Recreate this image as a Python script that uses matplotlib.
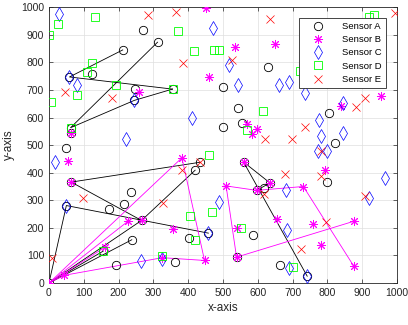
"""Sensor positions with cluster routes to the sink."""

import matplotlib

matplotlib.use("Agg")

import matplotlib.pyplot as plt

# Sensor A (black circles)
a_x = [212, 269, 312, 59, 124, 248, 355, 245, 62, 63, 48,
       499, 629, 543, 501, 554, 805, 821, 559, 435, 420,
       235, 216, 172, 64, 50, 266, 238, 156, 192, 403, 458, 361, 0,
       635, 618, 597, 800, 587, 665, 742, 539]
a_y = [845, 918, 873, 747, 756, 704, 703, 662, 563, 543, 490,
       709, 783, 633, 566, 581, 618, 506, 439, 438, 409,
       330, 285, 267, 366, 281, 227, 157, 116, 66, 165, 181, 78, 0,
       363, 344, 336, 368, 175, 67, 25, 94]

# Sensor B (magenta asterisks)
b_x = [0, 43, 161, 228, 266, 64, 55, 63, 258, 382, 451, 460, 534, 649,
       568, 582, 598, 838, 955, 559, 635, 597, 509, 731, 794, 539, 541,
       654, 759, 876, 781, 876, 447, 326, 356]
b_y = [0, 28, 130, 225, 227, 366, 444, 543, 691, 454, 997, 748, 857, 867,
       577, 542, 557, 642, 679, 439, 363, 336, 352, 350, 408, 94, 200,
       234, 215, 224, 137, 61, 82, 92, 195]

# Sensor C (blue diamonds)
c_x = [30, 80, 59, 245, 222, 17, 412, 471, 518, 543, 661, 691, 735, 845,
       776, 781, 845, 772, 800, 50, 458, 265, 326, 489, 681, 683, 689,
       919, 966, 742]
c_y = [976, 717, 747, 662, 521, 440, 598, 926, 792, 719, 718, 730, 688, 654,
       590, 533, 545, 477, 477, 281, 181, 81, 88, 295, 339, 194, 56,
       309, 380, 25]

# Sensor D (green squares)
d_x = [0, 25, 133, 6, 124, 109, 193, 80, 371, 417, 355, 62, 474, 490,
       614, 569, 459, 722, 921, 934, 404, 419, 156, 326, 469, 551, 701]
d_y = [900, 938, 965, 657, 798, 765, 717, 683, 912, 840, 703, 563, 845, 845,
       622, 556, 465, 769, 966, 973, 244, 155, 116, 98, 257, 200, 58]

# Sensor E (red crosses)
e_x = [46, 181, 285, 364, 384, 635, 527, 737, 622, 699, 882, 907, 995,
       781, 98, 329, 382, 9, 435, 677, 781, 617, 907, 797, 723]
e_y = [694, 670, 970, 982, 798, 957, 808, 566, 521, 521, 637, 671, 977,
       480, 307, 290, 408, 92, 438, 396, 389, 324, 317, 223, 124]

# routes (each path is a list of (x, y) nodes)
black_paths = [
    [(212, 845), (59, 747), (355, 703)],
    [(312, 873), (62, 563), (245, 662), (355, 703)],
    [(458, 181), (50, 281), (0, 0), (266, 227), (420, 409)],
    [(435, 438), (64, 366), (266, 227)],
    [(0, 0), (238, 157)],
    [(0, 0), (156, 116)],
    [(742, 25), (559, 439), (635, 363), (597, 336)],
]
magenta_paths = [
    [(0, 0), (228, 225)],
    [(0, 0), (161, 130)],
    [(0, 0), (382, 454), (447, 82), (326, 92), (43, 28), (0, 0)],
    [(876, 61), (731, 350), (597, 336), (509, 352), (539, 94), (876, 224)],
]

plt.rcParams["font.family"] = ["Liberation Sans", "DejaVu Sans"]

fig = plt.figure(figsize=(4.08, 3.25), dpi=100)
ax = fig.add_axes([0.120, 0.129, 0.853, 0.849])

for path in black_paths:
    xs, ys = zip(*path)
    ax.plot(xs, ys, color="k", linewidth=0.6, zorder=2)
for path in magenta_paths:
    xs, ys = zip(*path)
    ax.plot(xs, ys, color="#ff00ff", linewidth=0.6, zorder=2)

ms = 6
asterisk = (8, 2, 0)
ax.plot(a_x, a_y, "o", color="k", mfc="none", ms=ms, mew=0.6,
        label="Sensor A", zorder=3)
ax.plot(b_x, b_y, marker=asterisk, ls="none", color="#ff00ff", ms=ms + 0.5,
        mew=0.7, label="Sensor B", zorder=3)
ax.plot(c_x, c_y, "d", color="#0000ff", mfc="none", ms=ms + 1.5, mew=0.5,
        label="Sensor C", zorder=3)
ax.plot(d_x, d_y, "s", color="#00ff00", mfc="none", ms=ms - 0.5, mew=0.6,
        label="Sensor D", zorder=3)
ax.plot(e_x, e_y, "x", color="#ff0000", ms=ms, mew=0.5,
        label="Sensor E", zorder=3)

ax.set_xlim(0, 1000)
ax.set_ylim(0, 1000)
ax.set_xticks(range(0, 1001, 100))
ax.set_yticks(range(0, 1001, 100))
ax.grid(True, color="#dedede", linewidth=0.5)
ax.set_axisbelow(True)
ax.tick_params(direction="in", length=3, width=0.5, labelsize=7.5,
               colors="#262626", top=True, right=True)
for spine in ax.spines.values():
    spine.set_color("#262626")
    spine.set_linewidth(0.6)

ax.set_xlabel("x-axis", fontsize=8.5, color="#262626", labelpad=3)
ax.set_ylabel("y-axis", fontsize=8.5, color="#262626", labelpad=4)

leg = ax.legend(loc="upper right", bbox_to_anchor=(0.968, 0.962),
                borderaxespad=0, fontsize=6.8, frameon=True, fancybox=False,
                handlelength=3.2, handletextpad=0.9, labelspacing=0.45,
                borderpad=0.45)
leg.get_frame().set_edgecolor("#262626")
leg.get_frame().set_linewidth(0.6)
leg.get_frame().set_alpha(1)

fig.savefig("out.png", dpi=100)
plt.close(fig)
